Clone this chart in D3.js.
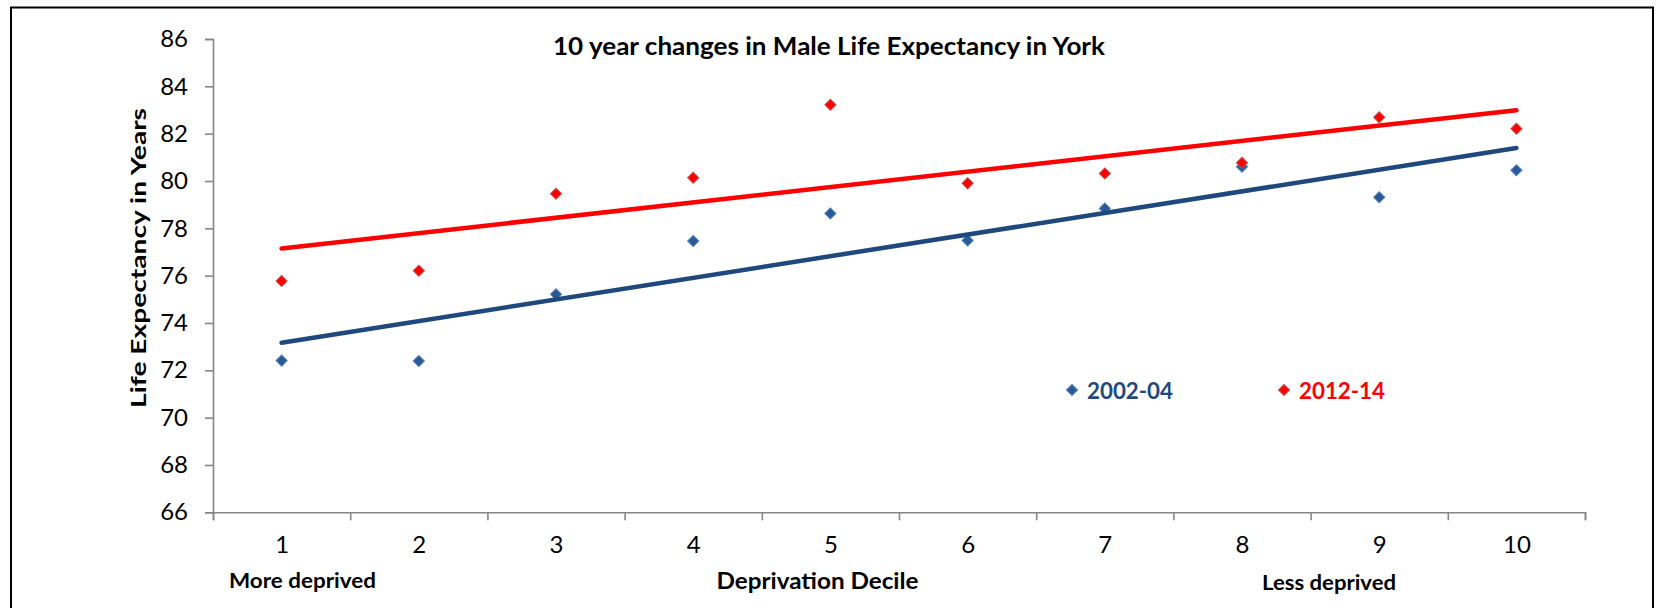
<!DOCTYPE html>
<html>
<head>
<meta charset="utf-8">
<script src="https://cdn.jsdelivr.net/npm/d3@7"></script>
<style>
  body { margin: 0; background: #fff; }
  svg text { font-family: Lato, "Open Sans", sans-serif; fill: #000; }
</style>
</head>
<body>
<div id="chart"></div>
<script>
// deprivation deciles (1 = more deprived, 10 = less deprived)
var deciles = [1, 2, 3, 4, 5, 6, 7, 8, 9, 10];
// male life expectancy in years
var le2002 = [72.41, 72.39, 75.21, 77.46, 78.63, 77.49, 78.84, 80.60, 79.31, 80.45];
var le2012 = [75.77, 76.21, 79.46, 80.14, 83.22, 79.90, 80.32, 80.77, 82.69, 82.21];
var seriesNames = ["2002-04", "2012-14"];
var yTicks = [66, 68, 70, 72, 74, 76, 78, 80, 82, 84, 86];

var width = 1662, height = 608;
var margin = {top: 39, right: 77, bottom: 95.7, left: 213};

var svg = d3.select("#chart").append("svg")
    .attr("width", width)
    .attr("height", height);

// outer chart border
svg.append("rect")
    .attr("x", 11).attr("y", 7.5)
    .attr("width", 1642).attr("height", 620)
    .attr("fill", "none")
    .attr("stroke", "#000")
    .attr("stroke-width", 2);

var x = d3.scaleLinear()
    .domain([0.5, 10.5])
    .range([margin.left, width - margin.right]);
var y = d3.scaleLinear()
    .domain([66, 86])
    .range([height - margin.bottom, margin.top]);

// y axis
var yAxis = svg.append("g")
    .attr("transform", "translate(" + margin.left + ",0)")
    .call(d3.axisLeft(y).tickValues(yTicks).tickSize(8).tickPadding(17));
yAxis.selectAll("text").style("font-size", "24px");

// x axis, ticks on the category boundaries
var bounds = d3.range(0.5, 11, 1);
svg.append("g")
    .attr("transform", "translate(0," + y(66) + ")")
    .call(d3.axisBottom(x).tickValues(bounds).tickSize(8).tickSizeOuter(8).tickFormat(""));

// category labels
var xLabels = svg.append("g")
    .attr("transform", "translate(0," + y(66) + ")")
    .call(d3.axisBottom(x).tickValues(deciles).tickSize(0).tickPadding(24));
xLabels.select(".domain").remove();
xLabels.selectAll("text").style("font-size", "24px");

svg.selectAll(".domain, .tick line")
    .attr("stroke", "#868686")
    .attr("stroke-width", 1.6);

// least-squares trend line, like the Excel linear trendline
function trend(vals) {
  var mx = d3.mean(deciles), my = d3.mean(vals);
  var sxy = d3.sum(deciles, function(d, i) { return (d - mx) * (vals[i] - my); });
  var sxx = d3.sum(deciles, function(d) { return (d - mx) * (d - mx); });
  var b = sxy / sxx, a = my - b * mx;
  return [deciles[0], deciles[deciles.length - 1]].map(function(d) { return [d, a + b * d]; });
}

var diamond = d3.symbol().type(d3.symbolSquare).size(62);

function drawMarkers(vals, fill, stroke) {
  svg.append("g").selectAll("path")
      .data(vals)
    .enter().append("path")
      .attr("d", diamond)
      .attr("transform", function(d, i) {
        return "translate(" + x(deciles[i]) + "," + y(d) + ") rotate(45)"; })
      .attr("fill", fill)
      .attr("stroke", stroke)
      .attr("stroke-width", 1);
}
drawMarkers(le2002, "#2a5a93", "#4f81bd");
drawMarkers(le2012, "#ff0000", "#c0504d");

var line = d3.line()
    .x(function(d) { return x(d[0]); })
    .y(function(d) { return y(d[1]); });

svg.append("path")
    .datum(trend(le2012))
    .attr("d", line)
    .attr("stroke", "#ff0000")
    .attr("stroke-width", 4.5)
    .attr("stroke-linecap", "round")
    .attr("fill", "none");
svg.append("path")
    .datum(trend(le2002))
    .attr("d", line)
    .attr("stroke", "#1f497d")
    .attr("stroke-width", 4.5)
    .attr("stroke-linecap", "round")
    .attr("fill", "none");

// title
svg.append("text")
    .attr("x", 829).attr("y", 55)
    .attr("text-anchor", "middle")
    .attr("textLength", 552)
    .attr("lengthAdjust", "spacingAndGlyphs")
    .style("font-size", "25.5px")
    .style("font-weight", "bold")
    .text("10 year changes in Male Life Expectancy in York");

// y axis title
svg.append("text")
    .attr("transform", "translate(146,258) rotate(-90)")
    .attr("text-anchor", "middle")
    .attr("textLength", 300)
    .attr("lengthAdjust", "spacingAndGlyphs")
    .style("font-size", "21px")
    .style("font-weight", "bold")
    .text("Life Expectancy in Years");

// x axis titles
svg.append("text")
    .attr("x", 817.5).attr("y", 589)
    .attr("text-anchor", "middle")
    .attr("textLength", 202)
    .attr("lengthAdjust", "spacingAndGlyphs")
    .style("font-size", "22.5px")
    .style("font-weight", "bold")
    .text("Deprivation Decile");
svg.append("text")
    .attr("x", 229).attr("y", 588)
    .attr("textLength", 147)
    .attr("lengthAdjust", "spacingAndGlyphs")
    .style("font-size", "20px")
    .style("font-weight", "bold")
    .text("More deprived");
svg.append("text")
    .attr("x", 1262).attr("y", 590)
    .attr("textLength", 134)
    .attr("lengthAdjust", "spacingAndGlyphs")
    .style("font-size", "20px")
    .style("font-weight", "bold")
    .text("Less deprived");

// legend
var legend = [
  {name: seriesNames[0], mx: 1072, tx: 1087, fill: "#2a5a93", stroke: "#4f81bd", color: "#1f497d"},
  {name: seriesNames[1], mx: 1284, tx: 1299, fill: "#ff0000", stroke: "#c0504d", color: "#ff0000"}
];
legend.forEach(function(l) {
  svg.append("path")
      .attr("d", diamond)
      .attr("transform", "translate(" + l.mx + ",390) rotate(45)")
      .attr("fill", l.fill)
      .attr("stroke", l.stroke);
  svg.append("text")
      .attr("x", l.tx).attr("y", 398.5)
      .attr("textLength", 86)
      .attr("lengthAdjust", "spacingAndGlyphs")
      .style("font-size", "23px")
      .style("font-weight", "bold")
      .style("fill", l.color)
      .text(l.name);
});
</script>
</body>
</html>
